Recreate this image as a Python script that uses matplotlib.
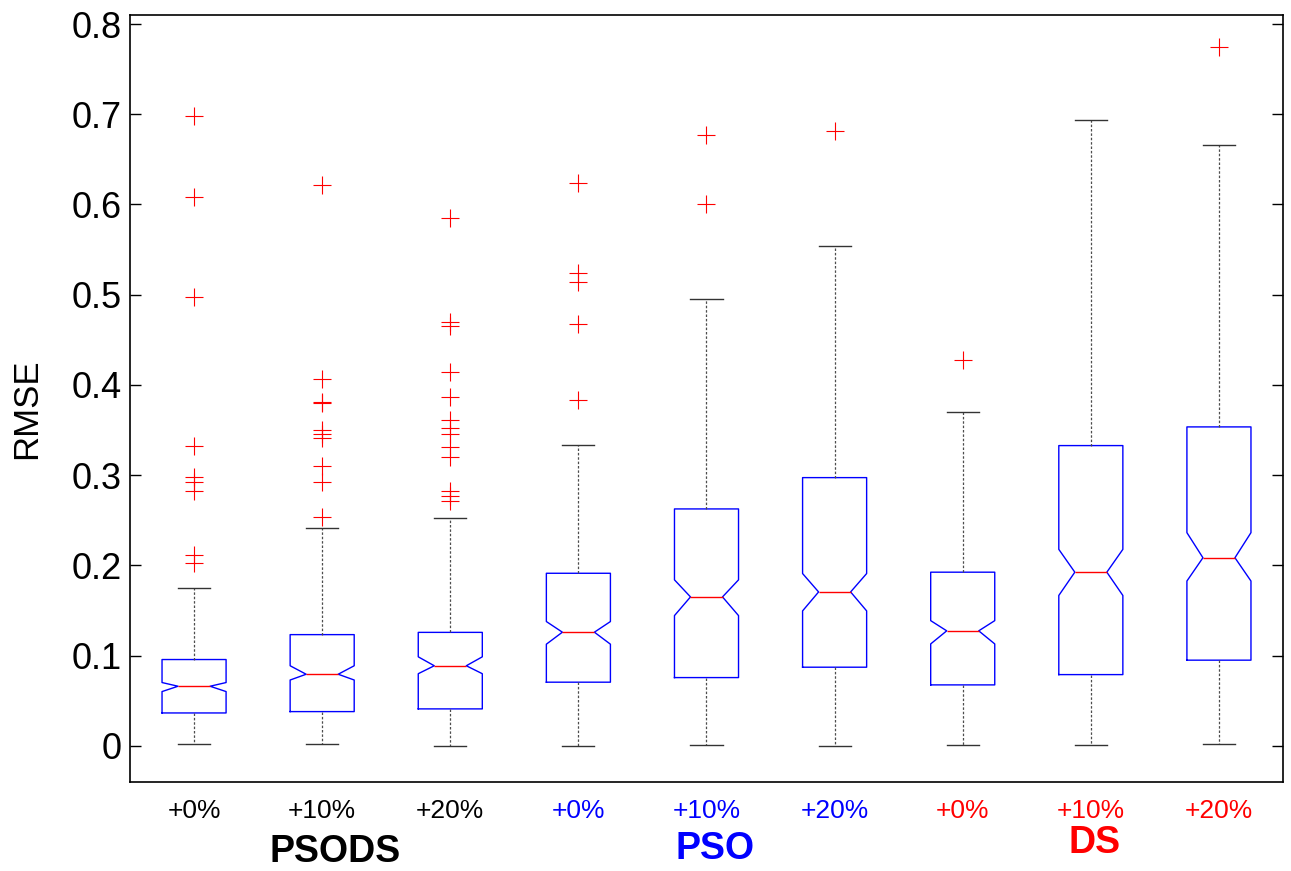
import numpy as np
import matplotlib
matplotlib.use("Agg")
import matplotlib.pyplot as plt

plt.rcParams['font.family'] = ['Liberation Sans', 'DejaVu Sans']

# tick labels and groups
ticklabels = ['+0%', '+10%', '+20%', '+0%', '+10%', '+20%', '+0%', '+10%', '+20%']
tickcolors = ['black'] * 3 + ['blue'] * 3 + ['red'] * 3
groups = ['PSODS', 'PSO', 'DS']
groupcolors = ['black', 'blue', 'red']

# box statistics
q1 = [0.0365, 0.038, 0.041, 0.0706, 0.0757, 0.0872, 0.0676, 0.079, 0.095]
med = [0.0661, 0.0794, 0.0888, 0.126, 0.1651, 0.1706, 0.1275, 0.1925, 0.2085]
q3 = [0.0957, 0.1233, 0.1258, 0.1913, 0.2626, 0.2973, 0.1925, 0.3328, 0.3535]
whislo = [0.002, 0.002, 0.0, 0.0, 0.001, 0.0, 0.001, 0.001, 0.0026]
whishi = [0.1746, 0.241, 0.253, 0.334, 0.4957, 0.554, 0.370, 0.694, 0.666]
cilo = [0.0602, 0.073, 0.080, 0.1127, 0.1444, 0.1496, 0.113, 0.1667, 0.1827]
cihi = [0.0702, 0.0888, 0.0987, 0.1378, 0.184, 0.191, 0.1388, 0.2178, 0.2363]
fliers = [
    [0.698, 0.608, 0.497, 0.332, 0.298, 0.292, 0.283, 0.212, 0.203],
    [0.6216, 0.407, 0.381, 0.380, 0.350, 0.346, 0.341, 0.310, 0.292, 0.2536],
    [0.585, 0.470, 0.465, 0.4145, 0.387, 0.361, 0.352, 0.346, 0.331, 0.320, 0.283, 0.277, 0.271],
    [0.624, 0.524, 0.5145, 0.468, 0.383],
    [0.677, 0.601],
    [0.681],
    [0.428],
    [],
    [0.774],
]

stats = []
for i in range(len(ticklabels)):
    stats.append(dict(q1=q1[i], med=med[i], q3=q3[i], whislo=whislo[i],
                      whishi=whishi[i], cilo=cilo[i], cihi=cihi[i],
                      fliers=np.array(fliers[i])))

fig = plt.figure(figsize=(12.91, 8.71), dpi=100)
ax = fig.add_axes([0.1007, 0.1022, 0.8931, 0.8806])

positions = np.arange(1, len(stats) + 1)
ax.bxp(stats, positions=positions, widths=0.5, shownotches=True,
       boxprops=dict(color='blue', lw=1.0),
       medianprops=dict(color='red', lw=1.0),
       whiskerprops=dict(color='0.3', lw=0.9, linestyle=(0, (2, 1.5))),
       capprops=dict(color='0.2', lw=1.0),
       flierprops=dict(marker='+', markeredgecolor='red', markersize=13,
                       markeredgewidth=0.8, linestyle='none'),
       manage_ticks=False)

ax.set_xlim(0.5, 9.5)
ax.set_ylim(-0.04, 0.81)
ax.set_yticks(np.arange(0, 0.81, 0.1))
ax.set_yticklabels(['0'] + ['%.1f' % v for v in np.arange(0.1, 0.81, 0.1)])
ax.tick_params(axis='y', direction='in', length=8, width=1, labelsize=26,
               right=True, pad=6)
ax.set_xticks(positions)
ax.set_xticklabels(ticklabels, fontsize=19)
ax.tick_params(axis='x', length=0, pad=12)
for lab, c in zip(ax.get_xticklabels(), tickcolors):
    lab.set_color(c)
for s in ax.spines.values():
    s.set_linewidth(1.2)

ax.set_ylabel('RMSE', fontsize=25)
ax.yaxis.set_label_coords(-0.0755, 0.487)

# group labels under the tick labels
group_x = [2.1, 5.07, 8.03]
group_y = [-0.118, -0.114, -0.108]
for name, c, gx, gy in zip(groups, groupcolors, group_x, group_y):
    ax.text(gx, gy, name, color=c, fontsize=27, fontweight='bold',
            ha='center', va='center', clip_on=False)

fig.savefig('out.png', dpi=100)
